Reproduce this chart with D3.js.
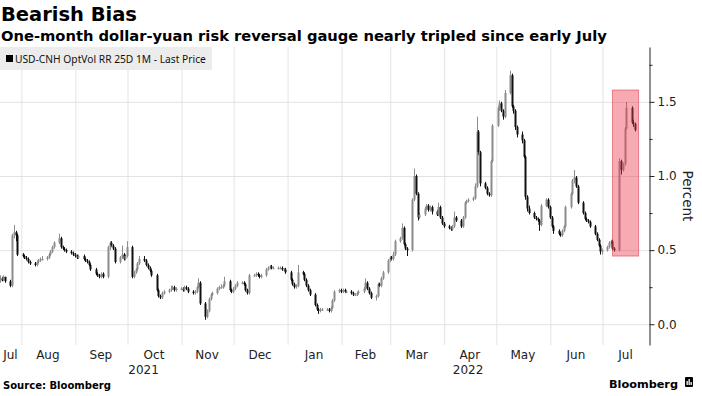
<!DOCTYPE html>
<html><head><meta charset="utf-8">
<script src="https://cdn.jsdelivr.net/npm/d3@7"></script>
<style>body{margin:0;background:#fff}svg{display:block}</style>
</head><body><svg id="c" width="702" height="396"></svg>
<script>
// ---------- data (daily candles, weekdays from firstDay to lastDay) ----------
const firstDay = "2021-07-20";
const lastDay = "2022-07-20";
const axisStart = "2021-07-20";
const axisEnd = "2022-07-28";

const opens = [
 0.29,0.31,0.30,0.32,
 0.29,0.26,0.60,0.62,0.60, 0.47,0.46,0.45,0.44,0.42, 0.41,0.40,0.42,0.43,0.44, 0.44,0.45,0.47,0.49,0.52,
 0.55,0.58,0.52,0.51,0.50, 0.49,0.48,0.47,0.46,0.45, 0.46,0.44,0.43,0.42,0.40, 0.37,0.34,0.33,0.32,0.34,
 0.32,0.52,0.55,0.53,0.51, 0.42,0.45,0.47,0.44,0.46, 0.52,0.32,0.35,0.37,0.41, 0.44,0.43,0.40,0.38,0.36,
 0.33,0.23,0.19,0.18,0.21, 0.22,0.23,0.24,0.25,0.23, 0.24,0.24,0.23,0.25,0.24, 0.22,0.21,0.22,0.25,0.28,
 0.14,0.05,0.09,0.17,0.20, 0.21,0.24,0.25,0.25,0.26, 0.29,0.23,0.22,0.24,0.26, 0.28,0.28,0.27,0.23,0.21,
 0.33,0.33,0.34,0.33,0.32, 0.33,0.37,0.38,0.39,0.38, 0.38,0.38,0.38,0.37,0.37, 0.35,0.30,0.27,0.25,0.26,
 0.35,0.34,0.30,0.26,0.23, 0.20,0.13,0.10,0.09,0.10, 0.10,0.10,0.09,0.11,0.16, 0.22,0.23,0.22,0.23,0.22,
 0.22,0.21,0.20,0.20,0.21, 0.22,0.24,0.28,0.24,0.21, 0.18,0.19,0.27,0.26,0.31, 0.35,0.43,0.45,0.44,0.47,
 0.56,0.58,0.65,0.54,0.51, 0.50,0.84,1.00,0.88,0.72, 0.74,0.78,0.80,0.77,0.79, 0.76,0.74,0.79,0.72,0.68,
 0.66,0.65,0.64,0.66,0.72, 0.70,0.66,0.72,0.82,0.83, 0.84,0.85,0.93,1.30,1.16, 0.95,0.92,0.88,0.87,1.10,
 1.34,1.46,1.49,1.44,1.40, 1.56,1.68,1.47,1.44,1.33, 1.28,1.24,1.13,0.86,0.78, 0.75,0.72,0.71,0.70,0.67,
 0.80,0.84,0.79,0.72,0.66, 0.63,0.61,0.60,0.63,0.66, 0.79,0.88,0.97,0.99,0.93, 0.82,0.75,0.71,0.70,0.69,
 0.66,0.61,0.57,0.53,0.49, 0.50,0.52,0.55,0.56,0.51, 0.50,1.10,1.04,1.08,1.32, 1.46,1.36,1.35
];
const highs = [
 0.33,0.32,0.33,0.32,
 0.30,0.61,0.67,0.63,0.61, 0.48,0.47,0.46,0.45,0.43, 0.42,0.43,0.44,0.45,0.46, 0.46,0.48,0.50,0.53,0.56,
 0.61,0.59,0.53,0.52,0.51, 0.50,0.49,0.48,0.47,0.47, 0.47,0.45,0.44,0.43,0.41, 0.38,0.35,0.34,0.35,0.35,
 0.53,0.56,0.56,0.54,0.52, 0.46,0.53,0.48,0.47,0.56, 0.53,0.36,0.38,0.42,0.46, 0.46,0.44,0.41,0.39,0.37,
 0.34,0.24,0.20,0.22,0.23, 0.24,0.26,0.26,0.26,0.25, 0.25,0.25,0.26,0.26,0.25, 0.23,0.23,0.26,0.31,0.29,
 0.15,0.10,0.18,0.21,0.22, 0.25,0.26,0.27,0.27,0.32, 0.30,0.24,0.25,0.27,0.29, 0.29,0.29,0.28,0.24,0.34,
 0.34,0.35,0.35,0.34,0.34, 0.38,0.39,0.40,0.40,0.39, 0.39,0.39,0.39,0.38,0.38, 0.36,0.31,0.28,0.27,0.40,
 0.36,0.35,0.31,0.27,0.24, 0.21,0.14,0.11,0.11,0.11, 0.11,0.11,0.12,0.17,0.23, 0.24,0.24,0.24,0.24,0.23,
 0.23,0.22,0.21,0.22,0.23, 0.25,0.31,0.29,0.25,0.22, 0.20,0.28,0.28,0.32,0.36, 0.44,0.46,0.46,0.49,0.57,
 0.59,0.68,0.66,0.55,0.52, 0.85,1.05,1.01,0.89,0.75, 0.79,0.81,0.81,0.80,0.80, 0.77,0.82,0.80,0.73,0.69,
 0.67,0.66,0.67,0.76,0.73, 0.71,0.73,0.83,0.84,0.85, 0.86,0.95,1.40,1.31,1.17, 0.96,0.93,0.89,1.11,1.35,
 1.47,1.51,1.50,1.45,1.58, 1.71,1.69,1.48,1.45,1.34, 1.30,1.25,1.14,0.87,0.80, 0.76,0.73,0.72,0.71,0.81,
 0.85,0.85,0.80,0.73,0.67, 0.64,0.62,0.64,0.67,0.80, 0.89,0.98,1.04,1.00,0.94, 0.83,0.76,0.72,0.71,0.70,
 0.67,0.62,0.58,0.54,0.51, 0.53,0.56,0.57,0.57,0.52, 1.12,1.11,1.09,1.33,1.50, 1.47,1.38,1.36
];
const lows = [
 0.28,0.29,0.29,0.28,
 0.25,0.25,0.58,0.56,0.46, 0.45,0.44,0.43,0.41,0.40, 0.39,0.39,0.41,0.42,0.43, 0.43,0.44,0.46,0.48,0.51,
 0.54,0.51,0.50,0.49,0.48, 0.47,0.46,0.45,0.44,0.44, 0.43,0.42,0.41,0.39,0.36, 0.33,0.32,0.31,0.31,0.31,
 0.31,0.50,0.52,0.50,0.41, 0.41,0.44,0.43,0.43,0.45, 0.31,0.31,0.34,0.36,0.40, 0.42,0.39,0.37,0.35,0.32,
 0.22,0.18,0.17,0.17,0.20, 0.21,0.22,0.23,0.22,0.22, 0.23,0.22,0.22,0.23,0.21, 0.20,0.20,0.21,0.24,0.13,
 0.03,0.04,0.08,0.16,0.19, 0.20,0.23,0.24,0.24,0.25, 0.22,0.21,0.21,0.23,0.25, 0.27,0.26,0.22,0.20,0.20,
 0.32,0.32,0.32,0.31,0.31, 0.32,0.36,0.37,0.37,0.37, 0.37,0.37,0.36,0.36,0.34, 0.29,0.26,0.24,0.24,0.25,
 0.33,0.29,0.25,0.22,0.19, 0.12,0.09,0.07,0.08,0.09, 0.09,0.08,0.08,0.10,0.15, 0.21,0.21,0.21,0.21,0.21,
 0.20,0.19,0.19,0.19,0.20, 0.21,0.23,0.23,0.20,0.17, 0.16,0.18,0.25,0.25,0.30, 0.34,0.42,0.43,0.43,0.46,
 0.55,0.57,0.53,0.50,0.46, 0.49,0.83,0.87,0.70,0.71, 0.73,0.77,0.76,0.76,0.74, 0.73,0.73,0.71,0.67,0.65,
 0.64,0.63,0.63,0.65,0.69, 0.65,0.65,0.71,0.81,0.82, 0.83,0.84,0.92,1.14,0.93, 0.91,0.87,0.86,0.86,1.09,
 1.33,1.44,1.43,1.38,1.39, 1.55,1.46,1.42,1.31,1.26, 1.22,1.12,0.84,0.76,0.74, 0.71,0.70,0.69,0.63,0.66,
 0.79,0.78,0.71,0.65,0.61, 0.60,0.59,0.59,0.62,0.65, 0.78,0.87,0.95,0.92,0.81, 0.74,0.70,0.69,0.68,0.65,
 0.60,0.56,0.52,0.47,0.47, 0.49,0.51,0.54,0.50,0.49, 0.49,1.01,1.03,1.07,1.31, 1.35,1.33,1.30
];
const closes = [
 0.31,0.30,0.32,0.29,
 0.26,0.60,0.62,0.60,0.47, 0.46,0.45,0.44,0.42,0.41, 0.40,0.42,0.43,0.44,0.44, 0.45,0.47,0.49,0.52,0.55,
 0.58,0.52,0.51,0.50,0.49, 0.48,0.47,0.46,0.45,0.46, 0.44,0.43,0.42,0.40,0.37, 0.34,0.33,0.32,0.34,0.32,
 0.52,0.55,0.53,0.51,0.42, 0.45,0.47,0.44,0.46,0.52, 0.32,0.35,0.37,0.41,0.44, 0.43,0.40,0.38,0.36,0.33,
 0.23,0.19,0.18,0.21,0.22, 0.23,0.24,0.25,0.23,0.24, 0.24,0.23,0.25,0.24,0.22, 0.21,0.22,0.25,0.28,0.14,
 0.05,0.09,0.17,0.20,0.21, 0.24,0.25,0.25,0.26,0.29, 0.23,0.22,0.24,0.26,0.28, 0.28,0.27,0.23,0.21,0.33,
 0.33,0.34,0.33,0.32,0.33, 0.37,0.38,0.39,0.38,0.38, 0.38,0.38,0.37,0.37,0.35, 0.30,0.27,0.25,0.26,0.35,
 0.34,0.30,0.26,0.23,0.20, 0.13,0.10,0.09,0.10,0.10, 0.10,0.09,0.11,0.16,0.22, 0.23,0.22,0.23,0.22,0.22,
 0.21,0.20,0.20,0.21,0.22, 0.24,0.28,0.24,0.21,0.18, 0.19,0.27,0.26,0.31,0.35, 0.43,0.45,0.44,0.47,0.56,
 0.58,0.65,0.54,0.51,0.50, 0.84,1.00,0.88,0.72,0.74, 0.78,0.80,0.77,0.79,0.76, 0.74,0.79,0.72,0.68,0.66,
 0.65,0.64,0.66,0.72,0.70, 0.66,0.72,0.82,0.83,0.84, 0.85,0.93,1.30,1.16,0.95, 0.92,0.88,0.87,1.10,1.34,
 1.46,1.49,1.44,1.40,1.56, 1.68,1.47,1.44,1.33,1.28, 1.24,1.13,0.86,0.78,0.75, 0.72,0.71,0.70,0.67,0.80,
 0.84,0.79,0.72,0.66,0.63, 0.61,0.60,0.63,0.66,0.79, 0.88,0.97,0.99,0.93,0.82, 0.75,0.71,0.70,0.69,0.66,
 0.61,0.57,0.53,0.49,0.50, 0.52,0.55,0.56,0.51,0.50, 1.10,1.04,1.08,1.32,1.46, 1.36,1.35,1.31
];
const yTicks = [0, 0.5, 1.0, 1.5];
const yMinorTicks = [0.25, 0.75, 1.25, 1.75];
const yDomain = [-0.14, 1.87];
const highlightDates = ["2022-07-07", "2022-07-22"];
const highlightValues = [0.46, 1.58];
const titleText = "Bearish Bias";
const subtitleText = "One-month dollar-yuan risk reversal gauge nearly tripled since early July";
const legendText = "USD-CNH OptVol RR 25D 1M - Last Price";
const yAxisTitle = "Percent";
const sourceText = "Source: Bloomberg";

// ---------- build ----------
const parse = d3.timeParse("%Y-%m-%d");
const days = d3.timeDay.range(parse(firstDay), d3.timeDay.offset(parse(lastDay), 1))
  .filter(d => d.getDay() !== 0 && d.getDay() !== 6);
const n = Math.min(days.length, opens.length, highs.length, lows.length, closes.length);
const data = d3.range(n).map(i => ({date: days[i], o: opens[i], h: highs[i], l: lows[i], c: closes[i]}));

const svg = d3.select("#c");
const FONT = "'DejaVu Sans', Verdana, sans-serif";
const FONT2 = "'Noto Sans', 'Open Sans', sans-serif";
const plotL = 0, plotR = 649, plotT = 47, plotB = 345;

const x = d3.scaleTime().domain([parse(axisStart), parse(axisEnd)]).range([plotL, plotR]);
const y = d3.scaleLinear().domain(yDomain).range([plotB, plotT]);

function fitText(sel, target) {
  const w = sel.node().getComputedTextLength();
  const fs = parseFloat(sel.attr("font-size"));
  sel.attr("font-size", (fs * target / w).toFixed(2));
}

// gridlines
const monthStarts = d3.timeMonth.range(d3.timeMonth.ceil(x.domain()[0]), x.domain()[1]);
svg.append("g").attr("transform", `translate(0,${plotB})`)
  .call(d3.axisBottom(x).tickValues(monthStarts).tickSize(-(plotB - plotT)).tickFormat(""))
  .call(g => g.select(".domain").remove())
  .call(g => g.selectAll("line").attr("stroke", "#e3e3e3").attr("stroke-width", 1)
     .attr("transform", "translate(0.5,0)"));
svg.append("g").attr("transform", `translate(${plotR},0)`)
  .call(d3.axisLeft(y).tickValues(yTicks).tickSize(plotR - plotL).tickFormat(""))
  .call(g => g.select(".domain").remove())
  .call(g => g.selectAll("line").attr("stroke", "#e3e3e3").attr("stroke-width", 1));

// legend
const lg = svg.append("g");
lg.append("rect").attr("x", 0).attr("y", 47).attr("width", 212).attr("height", 23).attr("fill", "#ececec");
lg.append("rect").attr("x", 6).attr("y", 55).attr("width", 7).attr("height", 7).attr("fill", "#000");
const lt = lg.append("text").attr("x", 15).attr("y", 63).attr("font-family", FONT2).attr("font-size", 11)
  .attr("fill", "#111").text(legendText);
fitText(lt, 191);

// candles
const cg = svg.append("g");
const col = d => d.c >= d.o ? "#8c8c8c" : "#111";
cg.selectAll("line.w").data(data).join("line").attr("class", "w")
  .attr("x1", d => Math.round(x(d.date)) + 0.5).attr("x2", d => Math.round(x(d.date)) + 0.5)
  .attr("y1", d => y(d.h)).attr("y2", d => y(d.l)).attr("stroke", col).attr("stroke-width", 1);
cg.selectAll("rect.b").data(data).join("rect").attr("class", "b")
  .attr("x", d => Math.round(x(d.date)) - 0.5).attr("width", 2)
  .attr("y", d => y(Math.max(d.o, d.c)))
  .attr("height", d => Math.max(1.2, Math.abs(y(d.o) - y(d.c))))
  .attr("fill", col);

// highlight
svg.append("rect")
  .attr("x", x(parse(highlightDates[0]))).attr("width", x(parse(highlightDates[1])) - x(parse(highlightDates[0])))
  .attr("y", y(highlightValues[1])).attr("height", y(highlightValues[0]) - y(highlightValues[1]))
  .attr("fill", "rgba(238,62,82,0.44)").attr("stroke", "rgba(214,40,60,0.5)").attr("stroke-width", 1);

// y axis (right)
const ya = svg.append("g").attr("transform", `translate(${plotR + 0.5},0)`)
  .call(d3.axisRight(y).tickValues(yTicks).tickSize(5).tickSizeOuter(0).tickPadding(3).tickFormat(d3.format(".1f")));
ya.select(".domain").attr("stroke", "#222");
ya.selectAll("line").attr("stroke", "#222");
ya.selectAll("text").attr("font-family", FONT).attr("font-size", 12).attr("fill", "#222");
svg.append("g").attr("transform", `translate(${plotR + 0.5},0)`)
  .call(d3.axisRight(y).tickValues(yMinorTicks).tickSize(3).tickFormat(""))
  .call(g => g.select(".domain").remove())
  .call(g => g.selectAll("line").attr("stroke", "#222"));
svg.append("text").attr("transform", `translate(683,196) rotate(90)`).attr("text-anchor", "middle")
  .attr("font-family", FONT).attr("font-size", 13.5).attr("fill", "#222").text(yAxisTitle);

// x labels: month names centered in visible month span, years centered in visible year span
const [d0, d1] = x.domain();
const months = d3.timeMonth.range(d3.timeMonth.floor(d0), d1);
const fmtM = d3.timeFormat("%b");
svg.append("g").selectAll("text").data(months).join("text")
  .attr("x", m => (x(m < d0 ? d0 : m) + x(d3.timeMonth.offset(m, 1) > d1 ? d1 : d3.timeMonth.offset(m, 1))) / 2)
  .attr("y", 359).attr("text-anchor", "middle").attr("font-family", FONT).attr("font-size", 12)
  .attr("fill", "#222").text(fmtM);
const years = d3.timeYear.range(d3.timeYear.floor(d0), d1);
svg.append("g").selectAll("text").data(years).join("text")
  .attr("x", yv => (x(yv < d0 ? d0 : yv) + x(d3.timeYear.offset(yv, 1) > d1 ? d1 : d3.timeYear.offset(yv, 1))) / 2)
  .attr("y", 374).attr("text-anchor", "middle").attr("font-family", FONT).attr("font-size", 12)
  .attr("fill", "#222").text(d3.timeFormat("%Y"));

// titles
const t1 = svg.append("text").attr("x", 1).attr("y", 21).attr("font-family", FONT).attr("font-weight", "bold")
  .attr("font-size", 20).attr("fill", "#000").text(titleText);
fitText(t1, 136);
const t2 = svg.append("text").attr("x", 1).attr("y", 41).attr("font-family", FONT).attr("font-weight", "bold")
  .attr("font-size", 14).attr("fill", "#000").text(subtitleText);
fitText(t2, 606);

// footer
const s = svg.append("text").attr("x", 3).attr("y", 389).attr("font-family", FONT).attr("font-weight", "bold")
  .attr("font-size", 11).attr("fill", "#000").text(sourceText);
fitText(s, 108);
const bl = svg.append("text").attr("x", 609).attr("y", 388).attr("font-family", FONT).attr("font-weight", "bold")
  .attr("font-size", 13).attr("fill", "#000").text("Bloomberg");
fitText(bl, 69);
const icon = svg.append("g").attr("transform", "translate(685,377)");
icon.append("rect").attr("width", 8).attr("height", 10).attr("rx", 1).attr("fill", "#000");
icon.append("rect").attr("x", 1.5).attr("y", 4).attr("width", 1.3).attr("height", 4).attr("fill", "#fff");
icon.append("rect").attr("x", 3.5).attr("y", 2).attr("width", 1.3).attr("height", 6).attr("fill", "#fff");
icon.append("rect").attr("x", 5.5).attr("y", 5).attr("width", 1.3).attr("height", 3).attr("fill", "#fff");
</script>
</body></html>
